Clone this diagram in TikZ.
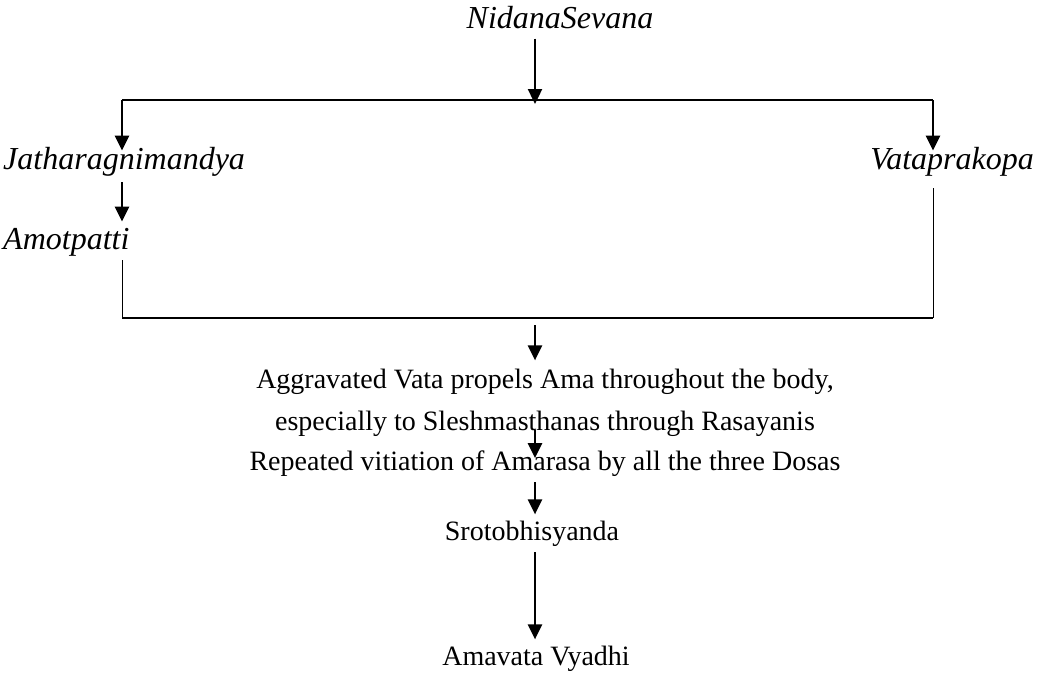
\documentclass[tikz,border=0pt]{standalone}
\usepackage{fontspec}
\setmainfont{Liberation Serif}
\usetikzlibrary{arrows.meta}
\begin{document}
\begin{tikzpicture}[x=1pt,y=-1pt,
  lbl/.style={inner sep=0pt, font=\fontsize{28}{33}\selectfont},
  ilbl/.style={inner sep=0pt, font=\fontsize{32}{37}\selectfont\itshape},
  arr/.style={line width=2.4pt, -{Triangle[width=14pt,length=15pt]}},
  ln/.style={line width=1.8pt},
  thinln/.style={line width=1pt}]
\useasboundingbox (0,0) rectangle (1039,697);
% coordinates
\coordinate (bm) at (535,104);
\coordinate (bl) at (122,100);
\coordinate (br) at (933,100);
\coordinate (cbl) at (122,318);
\coordinate (cbr) at (933,318);
\coordinate (cbm) at (535,325);
% nodes
\node[ilbl, anchor=base] (nid) at (560,28) {NidanaSevana};
\node[ilbl, anchor=base west] (jath) at (3,169) {Jatharagnimandya};
\node[ilbl, anchor=base east] (vata) at (1034,169) {Vataprakopa};
\node[ilbl, anchor=base west] (amot) at (3,249) {Amotpatti};
\node[lbl, anchor=base] (agg) at (545,388) {Aggravated Vata propels Ama throughout the body,};
\node[lbl, anchor=base] (esp) at (545,430) {especially to Sleshmasthanas through Rasayanis};
\node[lbl, anchor=base] (rep) at (545,470) {Repeated vitiation of Amarasa by all the three Dosas};
\node[lbl, anchor=base] (sro) at (532,540) {Srotobhisyanda};
\node[lbl, anchor=base] (ama) at (536,665) {Amavata Vyadhi};
% connectors
\draw[arr, shorten <=10pt] (nid.south -| bm) -- (bm);
\draw[ln] (bl) -- (br);
\draw[arr] (bl) -- ([yshift=-4pt]jath.north -| bl);
\draw[arr] (br) -- ([yshift=-4pt]vata.north -| br);
\draw[arr, shorten <=6pt, shorten >=6pt] (jath.south -| bl) -- (amot.north -| bl);
\draw[thinln, shorten <=4pt] (amot.south -| bl) -- (cbl);
\draw[thinln, shorten <=12pt] (vata.south -| br) -- (cbr);
\draw[ln] (cbl) -- (cbr);
\draw[arr, shorten >=8pt] (cbm) -- (agg.north -| cbm);
\draw[arr] (esp.base -| cbm) -- ([yshift=-8pt]rep.north -| cbm);
\draw[arr, shorten <=6pt, shorten >=6pt] (rep.south -| cbm) -- (sro.north -| cbm);
\draw[arr, shorten <=6pt, shorten >=6pt] (sro.south -| cbm) -- (ama.north -| cbm);
\end{tikzpicture}
\end{document}
